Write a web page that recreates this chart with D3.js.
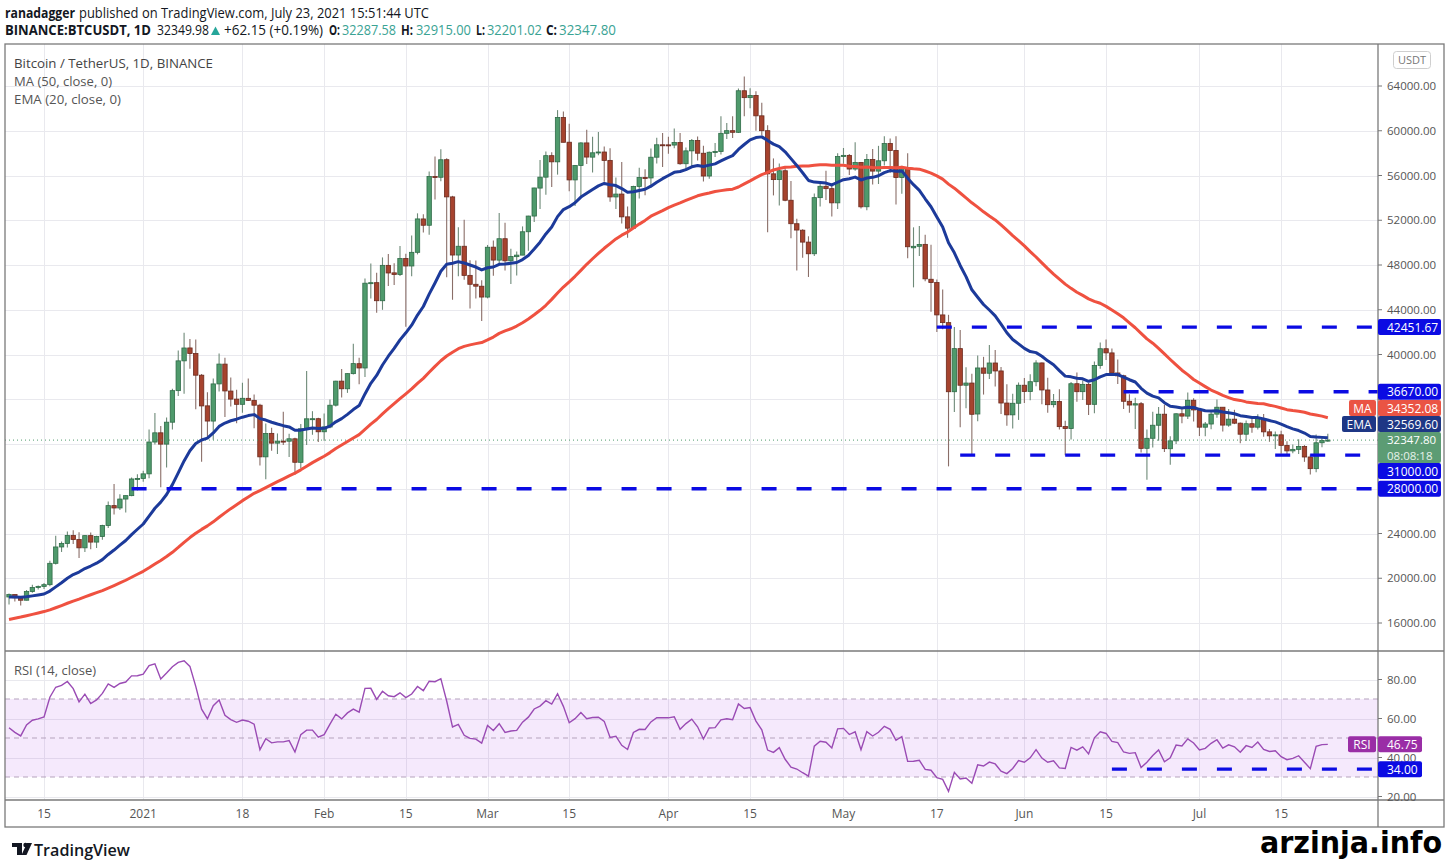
<!DOCTYPE html>
<html><head><meta charset="utf-8">
<script src="https://cdn.jsdelivr.net/npm/d3@7"></script>
<style>
html,body{margin:0;padding:0;background:#fff;}
svg{display:block;font-family:"Open Sans","Noto Sans",sans-serif;}
</style></head><body>
<svg id="chart" width="1450" height="863"></svg>
<script>
// ---------------- DATA ----------------
const startDate = "2020-12-09";
// closes before the first visible candle (Oct 20 – Dec 8, 2020), used only to seed the indicators
const warmupCloses = [11916,12823,12965,12931,13108,13031,13067,13639,13266,13455,13560,13792,
 13761,13549,14023,14145,15590,15580,14827,15479,15332,15291,15701,16277,16317,16068,15958,16716,
 17645,17804,17818,18660,18704,18414,18368,19160,18720,17150,17139,17719,18185,19696,18765,19205,
 19422,18650,19147,19359,19166,18324];

const opens = [
 18324,18541,18254,18036,18808,19175,19273,19426,21335,22797,23107,23821,23455,22719,23810,23232,23729,24712,26493,26281,27079,27385,28875,
 28923,29331,32176,33000,31989,33949,36769,39432,40586,40088,38150,35410,34049,37371,39141,36733,36013,35547,36083,35901,35469,30852,32950,32078,32259,32251,32464,30362,33368,34246,34262,
 33092,33517,35472,37620,36936,38289,39181,38795,46374,46421,44807,47968,47298,47156,48581,47912,49133,52117,51552,55906,55841,57413,54087,48891,49676,47074,46276,46104,
 45134,49595,48436,50350,48374,48746,48883,50972,52375,54875,55852,57773,57221,61188,58976,55605,56900,58913,57641,58030,58100,57351,54083,54342,52304,51293,55026,55817,55781,57635,58746,
 58740,58720,58950,57052,58202,59130,57990,55953,58077,58142,59770,60007,59860,63576,62959,63159,61334,60007,56150,55633,56425,53788,51690,51111,50047,49005,54021,55034,54825,53555,
 57697,57798,56578,57169,53205,57436,56393,57315,58866,58240,55816,56670,49537,49671,49845,46726,46427,43538,42850,36672,40526,37253,37449,34681,38796,38324,39241,38530,35662,34605,35642,
 37254,36694,37568,39246,36829,35516,35796,33556,33381,37389,36677,37331,35546,39021,40516,40143,38349,38099,35820,35483,35600,31614,32510,33676,34663,31577,32283,34702,34494,35911,
 35045,33502,33786,34669,35288,33690,34220,33863,32875,33815,33502,34259,33086,32729,32820,31874,31383,31520,31778,30839,29796,32110,32287.58];
const highs = [
 18639,18557,18292,18948,19411,19349,19570,21560,23800,23285,24171,24295,24102,23837,24100,23794,24789,26867,28422,27500,27400,28996,29300,
 29600,33300,34778,33600,34360,36939,40365,41950,41380,41350,38264,36628,37850,40100,39700,37950,36852,37469,37850,36415,35600,33826,33456,32944,34875,32921,32557,33783,38531,34933,34342,
 34717,35984,37662,38708,38310,40955,39700,46794,48142,47310,48678,48985,48150,49707,49010,50641,52618,52530,56368,57700,58352,57533,54183,51374,52041,48424,48394,46638,
 49791,50200,52640,51773,49448,49200,51450,52402,54895,57387,58150,58081,61844,61724,60633,56938,58981,60100,59468,59880,58589,58430,55830,57200,53229,55073,56700,56559,58405,59368,59800,
 59461,60200,59791,58500,59252,59475,58650,58153,58894,61300,60700,61300,63778,64854,63800,63520,62506,60499,57526,57076,56757,55500,52131,51200,50567,54400,55460,56428,55200,58000,
 58458,57930,58981,57200,57911,58360,58650,59500,59300,59500,56862,58000,51367,51483,50700,49800,46700,45800,43547,42451.67,42200,38850,38270,39920,39791,40841,40411,38877,37338,36488,37499,
 37894,38225,39476,39289,37925,36480,36900,34068,37534,38400,37681,37448,39380,41064,41330,40527,39560,38200,36457,36137,35750,33298,34881,35298,35500,32700,34749,35297,36600,36100,
 35057,33977,34945,35967,35293,35118,35059,33929,34100,34262,34666,34678,33340,33114,33185,32249,31955,32435,31899,31063,32858,32595,32915.00];
const lows = [
 17650,17911,17572,18020,18711,19000,19050,19278,21230,22350,22750,23060,21815,22353,22600,22703,23433,24500,25700,26101,25880,27320,27850,
 28624,28946,31962,28130,29900,33288,36300,36500,38720,35111,30420,32531,32380,36701,34408,35357,33850,34800,35844,33400,30071,28850,31390,31106,31910,30837,29241,29842,31915,32825,32171,
 32296,33418,35362,36161,36570,38215,37351,37988,45000,43727,43994,46125,46202,47014,42480,47003,48947,50901,50710,53863,55477,46912,44893,47003,46674,44106,45000,43000,
 45016,47047,48100,47500,46300,47070,48882,49274,51845,53005,54273,54962,56079,58966,54600,53271,54123,57023,56270,57820,55450,53650,53000,51700,50427,51283,53950,54242,54902,57071,56769,
 57935,58428,56955,56478,56800,57333,55473,55700,57654,57872,59266,59350,59791,61301,62020,60000,59580,50931,54221,53329,53696,50400,47500,48650,46930,48800,53222,53813,52330,53013,
 57052,56035,56435,53046,52901,55200,55241,56900,56235,53400,54370,48600,46000,48799,46555,43825,42001,42250,30000,34850,33488,35200,31111,34031,36419,37800,37134,34685,33632,33379,34153,
 35667,35920,37170,35555,34800,35258,33300,31000,32396,35782,35936,34600,34757,38730,39506,38116,37365,35129,34804,33336,31251,28805,31683,32286,31275,30151,32000,33862,34225,34017,
 32711,32699,33316,34357,33125,33532,33777,32077,32261,33004,33306,32658,32203,31550,31133,31020,31164,31108,30407,29278,29482,31708,32201.02];
const closes = [
 18541,18254,18036,18808,19175,19273,19426,21335,22797,23107,23821,23455,22719,23810,23232,23729,24712,26493,26281,27079,27385,28875,28923,
 29331,32178,33000,31988,33949,36769,39432,40582,40088,38150,35404,34051,37371,39144,36742,36013,35547,36086,35901,35469,30851,32945,32078,32259,32254,32467,30366,33364,34252,34262,33092,
 33526,35466,37618,36936,38290,39186,38795,46374,46420,44807,47969,47287,47153,48577,47911,49133,52119,51552,55906,55841,57408,54088,48891,49676,47073,46276,46106,45135,
 49587,48440,50349,48374,48751,48882,50971,52375,54885,55851,57773,57222,61189,58968,55605,56900,58912,57648,58030,58102,57351,54083,54340,52303,51293,55025,55817,55777,57635,58746,58740,
 58720,58950,57052,58203,59130,57992,55953,58077,58142,59770,60007,59861,63575,62959,63160,61334,60006,56150,55633,56425,53787,51690,51125,50047,49004,54021,55034,54824,53555,57694,
 57800,56578,57170,53200,57436,56393,57314,58862,58240,55816,56670,49631,49671,49841,46762,46431,43538,42850,36671,40526,37252,37449,34655,38796,38324,39241,38529,35663,34605,35641,37253,
 36694,37568,39246,36829,35513,35796,33552,33380,37388,36675,37331,35546,39020,40516,40144,38349,38092,35819,35483,35600,31608,32509,33678,34663,31584,32283,34700,34494,35911,35045,
 33504,33786,34669,35287,33690,34220,33862,32875,33815,33502,34259,33086,32729,32820,31880,31383,31520,31778,30839,29796,32110,32313,32347.80];

const priceTicks = [16000,20000,24000,28000,32000,36000,40000,44000,48000,52000,56000,60000,64000];
const rsiTicks = [20,40,60,80];
const rsiBandLevels = [30,50,70];
const timeTicks = ["2020-12-15","2021-01-01","2021-01-18","2021-02-01","2021-02-15","2021-03-01","2021-03-15",
 "2021-04-01","2021-04-15","2021-05-01","2021-05-17","2021-06-01","2021-06-15","2021-07-01","2021-07-15"];
const timeTickLabels = ["15","2021","18","Feb","15","Mar","15","Apr","15","May","17","Jun","15","Jul","15"];

// horizontal drawn levels (price pane) and their start dates
const levelPrices = [42451.67, 36670.00, 31000.00, 28000.00];
const levelStarts = ["2021-05-17","2021-06-18","2021-05-21","2020-12-30"];
const rsiLevel = 34.00, rsiLevelStart = "2021-06-16";

// last values shown in the right-hand labels
const lastMA = 34352.08, lastEMA = 32569.60, lastPrice = 32347.80, lastRSI = 46.75;
const countdown = "08:08:18";

// ---------------- LAYOUT ----------------
const L = 5, R = 1378, T = 44, PB = 651, RB = 800, B = 827, OR = 1444;
const svg = d3.select("#chart");
const parse = d3.utcParse("%Y-%m-%d");
const start = parse(startDate);
const dates = closes.map((_, i) => d3.utcDay.offset(start, i));
const anchor = parse("2020-12-15");
const DAY = 864e5;
const x = d3.scaleUtc()
  .domain([new Date(+anchor - 6.69 * DAY), new Date(+anchor + 228.6 * DAY)])
  .range([L, R]);
const y = d3.scaleLinear().domain([16000, 64000]).range([623, 86]);
const yr = d3.scaleLinear().domain([20, 80]).range([796.5, 679.5]);

// ---------------- INDICATORS ----------------
const all = warmupCloses.concat(closes);
const n0 = warmupCloses.length;
const ma = all.map((c, i) => i >= 49 ? d3.mean(all.slice(i - 49, i + 1)) : null);
const ema = []; const k = 2 / 21;
all.forEach((c, i) => { ema[i] = i === 0 ? c : ema[i - 1] + k * (c - ema[i - 1]); });
const rsi = []; let up = 0, dn = 0;
for (let i = 1; i < all.length; i++) {
  const ch = all[i] - all[i - 1], g = Math.max(ch, 0), l = Math.max(-ch, 0);
  if (i <= 14) { up += g / 14; dn += l / 14; if (i === 14) rsi[i] = 100 - 100 / (1 + up / dn); }
  else { up = (up * 13 + g) / 14; dn = (dn * 13 + l) / 14; rsi[i] = 100 - 100 / (1 + up / dn); }
}
const vis = dates.map((d, i) => ({ d, o: opens[i], h: highs[i], l: lows[i], c: closes[i],
  ma: ma[n0 + i], ema: ema[n0 + i], rsi: rsi[n0 + i] }));

// ---------------- DRAW ----------------
const defs = svg.append("defs");
defs.append("clipPath").attr("id", "clipP").append("rect").attr("x", L).attr("y", T).attr("width", R - L).attr("height", PB - T);
defs.append("clipPath").attr("id", "clipR").append("rect").attr("x", L).attr("y", PB).attr("width", R - L).attr("height", RB - PB);

svg.append("rect").attr("width", 1450).attr("height", 863).attr("fill", "#fff");

const grid = svg.append("g").attr("stroke", "#e9e9ee").attr("stroke-width", 1);
timeTicks.forEach(t => {
  const xx = Math.round(x(parse(t))) + 0.5;
  grid.append("line").attr("x1", xx).attr("x2", xx).attr("y1", T).attr("y2", RB);
});
priceTicks.forEach(p => {
  const yy = Math.round(y(p)) + 0.5;
  grid.append("line").attr("x1", L).attr("x2", R).attr("y1", yy).attr("y2", yy);
});
rsiTicks.forEach(v => {
  const yy = Math.round(yr(v)) + 0.5;
  grid.append("line").attr("x1", L).attr("x2", R).attr("y1", yy).attr("y2", yy);
});

// RSI band
svg.append("rect").attr("x", L).attr("y", yr(70)).attr("width", R - L).attr("height", yr(30) - yr(70))
  .attr("fill", "#9c27e0").attr("fill-opacity", 0.1);
rsiBandLevels.forEach(v => {
  svg.append("line").attr("x1", L).attr("x2", R).attr("y1", yr(v)).attr("y2", yr(v))
    .attr("stroke", "#b5a3bd").attr("stroke-dasharray", "5,4").attr("stroke-width", 1);
});

// candles
const gP = svg.append("g").attr("clip-path", "url(#clipP)");
const bw = 4.4;
const upFill = "#4f9a6c", upLine = "#2f6b47", dnFill = "#a6432e", dnLine = "#6b2a1e";
const cg = gP.append("g");
cg.selectAll("line.wick").data(vis).join("line")
  .attr("x1", d => x(d.d)).attr("x2", d => x(d.d))
  .attr("y1", d => y(d.h)).attr("y2", d => y(d.l))
  .attr("stroke", d => d.c >= d.o ? "#6e8a78" : "#8a6e68").attr("stroke-width", 1.1);
cg.selectAll("rect.body").data(vis).join("rect")
  .attr("x", d => x(d.d) - bw / 2).attr("width", bw)
  .attr("y", d => y(Math.max(d.o, d.c)))
  .attr("height", d => Math.max(1, Math.abs(y(d.o) - y(d.c))))
  .attr("fill", d => d.c >= d.o ? upFill : dnFill)
  .attr("stroke", d => d.c >= d.o ? upLine : dnLine).attr("stroke-width", 0.8);

// last price dotted line
gP.append("line").attr("x1", L).attr("x2", R).attr("y1", y(lastPrice)).attr("y2", y(lastPrice))
  .attr("stroke", "#4f9a6c").attr("stroke-dasharray", "1,3").attr("stroke-width", 1);

// MA & EMA
const lineMA = d3.line().x(d => x(d.d)).y(d => y(d.ma));
const lineEMA = d3.line().x(d => x(d.d)).y(d => y(d.ema));
gP.append("path").datum(vis).attr("d", lineMA).attr("fill", "none")
  .attr("stroke", "#ef5140").attr("stroke-width", 3).attr("stroke-linejoin", "round");
gP.append("path").datum(vis).attr("d", lineEMA).attr("fill", "none")
  .attr("stroke", "#1c3a9a").attr("stroke-width", 3).attr("stroke-linejoin", "round");

// drawn levels
const lvlColor = "#0b0be3";
levelPrices.forEach((p, i) => {
  gP.append("line").attr("x1", x(parse(levelStarts[i]))).attr("x2", R)
    .attr("y1", y(p)).attr("y2", y(p))
    .attr("stroke", lvlColor).attr("stroke-width", 3.3).attr("stroke-dasharray", "15,20");
});

// RSI line
const gR = svg.append("g").attr("clip-path", "url(#clipR)");
gR.append("path").datum(vis).attr("d", d3.line().x(d => x(d.d)).y(d => yr(d.rsi)))
  .attr("fill", "none").attr("stroke", "#9a4bb4").attr("stroke-width", 1.4);
gR.append("line").attr("x1", x(parse(rsiLevelStart))).attr("x2", R)
  .attr("y1", yr(rsiLevel)).attr("y2", yr(rsiLevel))
  .attr("stroke", lvlColor).attr("stroke-width", 3.3).attr("stroke-dasharray", "15,20");

// frame
const frame = svg.append("g").attr("stroke", "#7a7a7a").attr("fill", "none").attr("stroke-width", 1.3);
frame.append("rect").attr("x", L).attr("y", T).attr("width", OR - L).attr("height", B - T);
frame.append("line").attr("x1", L).attr("x2", OR).attr("y1", PB).attr("y2", PB);
frame.append("line").attr("x1", L).attr("x2", OR).attr("y1", RB).attr("y2", RB);
frame.append("line").attr("x1", R).attr("x2", R).attr("y1", T).attr("y2", B);

// time axis labels
const tAxis = svg.append("g").attr("font-size", 12).attr("fill", "#555").attr("text-anchor", "middle");
timeTicks.forEach((t, i) => {
  tAxis.append("text").attr("x", x(parse(t))).attr("y", 818).text(timeTickLabels[i]);
});

// right-hand value labels with simple stacking around the last price box
const pY = y(lastPrice);
const fixedTop = pY - 8, fixedBot = pY + 23;
const labels = [
  { v: levelPrices[0], bg: lvlColor },
  { v: levelPrices[1], bg: lvlColor },
  { v: lastMA, bg: "#ea5444", tag: "MA", tagW: 27 },
  { v: lastEMA, bg: "#1e3785", tag: "EMA", tagW: 34 },
  { v: levelPrices[2], bg: lvlColor },
  { v: levelPrices[3], bg: lvlColor }
];
labels.forEach(l => l.y = y(l.v));
const above = labels.filter(l => l.y < pY).sort((a, b) => b.y - a.y);
let lim = fixedTop;
above.forEach(l => { l.cy = Math.min(l.y, lim - 8); lim = l.cy - 8; });
const below = labels.filter(l => l.y >= pY).sort((a, b) => a.y - b.y);
lim = fixedBot;
below.forEach(l => { l.cy = Math.max(l.y, lim + 8); lim = l.cy + 8; });
// occupied vertical spans on the price scale (tick labels under them are hidden, as in TradingView)
const occupied = labels.map(l => [l.cy - 8, l.cy + 8]).concat([[fixedTop, fixedBot]]);
const covered = yy => occupied.some(([a, b]) => yy + 6 > a && yy - 6 < b);

// price axis ticks
const fmt = d3.format(".2f");
const pAxis = svg.append("g").attr("font-size", 11.5).attr("fill", "#555");
priceTicks.forEach(p => {
  pAxis.append("line").attr("x1", R).attr("x2", R + 4).attr("y1", y(p)).attr("y2", y(p)).attr("stroke", "#777");
  if (!covered(y(p))) pAxis.append("text").attr("x", 1387).attr("y", y(p) + 4).text(fmt(p));
});
rsiTicks.forEach(v => {
  pAxis.append("line").attr("x1", R).attr("x2", R + 4).attr("y1", yr(v)).attr("y2", yr(v)).attr("stroke", "#777");
  pAxis.append("text").attr("x", 1387).attr("y", yr(v) + 4).text(fmt(v));
});

// USDT box
svg.append("rect").attr("x", 1393.5).attr("y", 51.5).attr("width", 37).attr("height", 17).attr("rx", 3)
  .attr("fill", "#fff").attr("stroke", "#cfcfcf");
svg.append("text").attr("x", 1412).attr("y", 64).attr("text-anchor", "middle").attr("font-size", 11)
  .attr("fill", "#777").text("USDT");

function valueBox(cy, bg, txt, w, tag, tagW) {
  const g = svg.append("g");
  g.append("rect").attr("x", R).attr("y", cy - 8).attr("width", w).attr("height", 16).attr("rx", 2).attr("fill", bg);
  g.append("text").attr("x", R + 9).attr("y", cy + 4.5).attr("font-size", 12).attr("fill", "#fff").text(txt);
  if (tag) {
    g.append("rect").attr("x", R - 2 - tagW).attr("y", cy - 8).attr("width", tagW).attr("height", 16).attr("rx", 2).attr("fill", bg);
    g.append("text").attr("x", R - 2 - tagW / 2).attr("y", cy + 4.5).attr("text-anchor", "middle")
      .attr("font-size", 12).attr("fill", "#fff").text(tag);
  }
}
labels.forEach(l => valueBox(l.cy, l.bg, fmt(l.v), 63, l.tag, l.tagW));
// last price box (two lines)
svg.append("rect").attr("x", R).attr("y", fixedTop).attr("width", 63).attr("height", fixedBot - fixedTop).attr("rx", 2).attr("fill", "#5c9c74");
svg.append("text").attr("x", R + 9).attr("y", pY + 4).attr("font-size", 11.5).attr("fill", "#fff").text(fmt(lastPrice));
svg.append("text").attr("x", R + 9).attr("y", pY + 19.5).attr("font-size", 11.5).attr("fill", "#e6f2ea").text(countdown);
// RSI labels
valueBox(yr(lastRSI), "#9a2ea6", fmt(lastRSI), 44, "RSI", 28);
valueBox(yr(rsiLevel), lvlColor, fmt(rsiLevel), 44);

// legends
const leg = svg.append("g").attr("font-size", 13.5).attr("fill", "#555");
leg.append("text").attr("x", 14).attr("y", 68).attr("fill", "#444").attr("textLength", 199).attr("lengthAdjust", "spacingAndGlyphs").text("Bitcoin / TetherUS, 1D, BINANCE");
leg.append("text").attr("x", 14).attr("y", 86).attr("textLength", 98).attr("lengthAdjust", "spacingAndGlyphs").text("MA (50, close, 0)");
leg.append("text").attr("x", 14).attr("y", 104).attr("textLength", 107).attr("lengthAdjust", "spacingAndGlyphs").text("EMA (20, close, 0)");
leg.append("text").attr("x", 14).attr("y", 675).attr("textLength", 82).attr("lengthAdjust", "spacingAndGlyphs").text("RSI (14, close)");

// header
const hd = svg.append("g").attr("font-size", 14).attr("fill", "#131722");
function ht(xp, yp, txt, len, opts = {}) {
  const t = hd.append("text").attr("x", xp).attr("y", yp).text(txt)
    .attr("textLength", len).attr("lengthAdjust", "spacingAndGlyphs");
  if (opts.bold) t.attr("font-weight", "bold");
  if (opts.fill) t.attr("fill", opts.fill);
  return t;
}
const teal = "#3aa394";
ht(5, 18, "ranadagger", 70, { bold: true });
ht(79, 18, "published on TradingView.com, July 23, 2021 15:51:44 UTC", 350);
ht(5, 35, "BINANCE:BTCUSDT, 1D", 146, { bold: true });
ht(157, 35, "32349.98", 52);
// up-arrow icon
svg.append("path").attr("d", "M211,35 L215.5,26.5 L220,35 Z").attr("fill", "#26a69a");
ht(224, 35, "+62.15 (+0.19%)", 99);
ht(329, 35, "O:", 11, { bold: true });
ht(342, 35, "32287.58", 54, { fill: teal });
ht(401, 35, "H:", 12, { bold: true });
ht(416, 35, "32915.00", 55, { fill: teal });
ht(476, 35, "L:", 9, { bold: true });
ht(487, 35, "32201.02", 55, { fill: teal });
ht(546, 35, "C:", 11, { bold: true });
ht(559, 35, "32347.80", 57, { fill: teal });

// footer: TradingView logo + watermark
const logo = svg.append("g").attr("fill", "#131722");
logo.append("rect").attr("x", 12).attr("y", 843).attr("width", 10).attr("height", 4);
logo.append("rect").attr("x", 17).attr("y", 843).attr("width", 5).attr("height", 12);
logo.append("circle").attr("cx", 25.5).attr("cy", 845).attr("r", 2.2);
logo.append("path").attr("d", "M27,843 L32,843 L26.5,855 L21.5,855 Z");
svg.append("text").attr("x", 34).attr("y", 855.5).attr("font-size", 17).attr("font-weight", 600)
  .attr("fill", "#131722").attr("textLength", 96).attr("lengthAdjust", "spacingAndGlyphs").text("TradingView");
svg.append("text").attr("x", 1260).attr("y", 853).attr("font-family", "'DejaVu Sans', sans-serif")
  .attr("font-size", 30).attr("font-weight", 900).attr("fill", "#000")
  .attr("textLength", 182).attr("lengthAdjust", "spacingAndGlyphs").text("arzinja.info");
</script></body></html>
